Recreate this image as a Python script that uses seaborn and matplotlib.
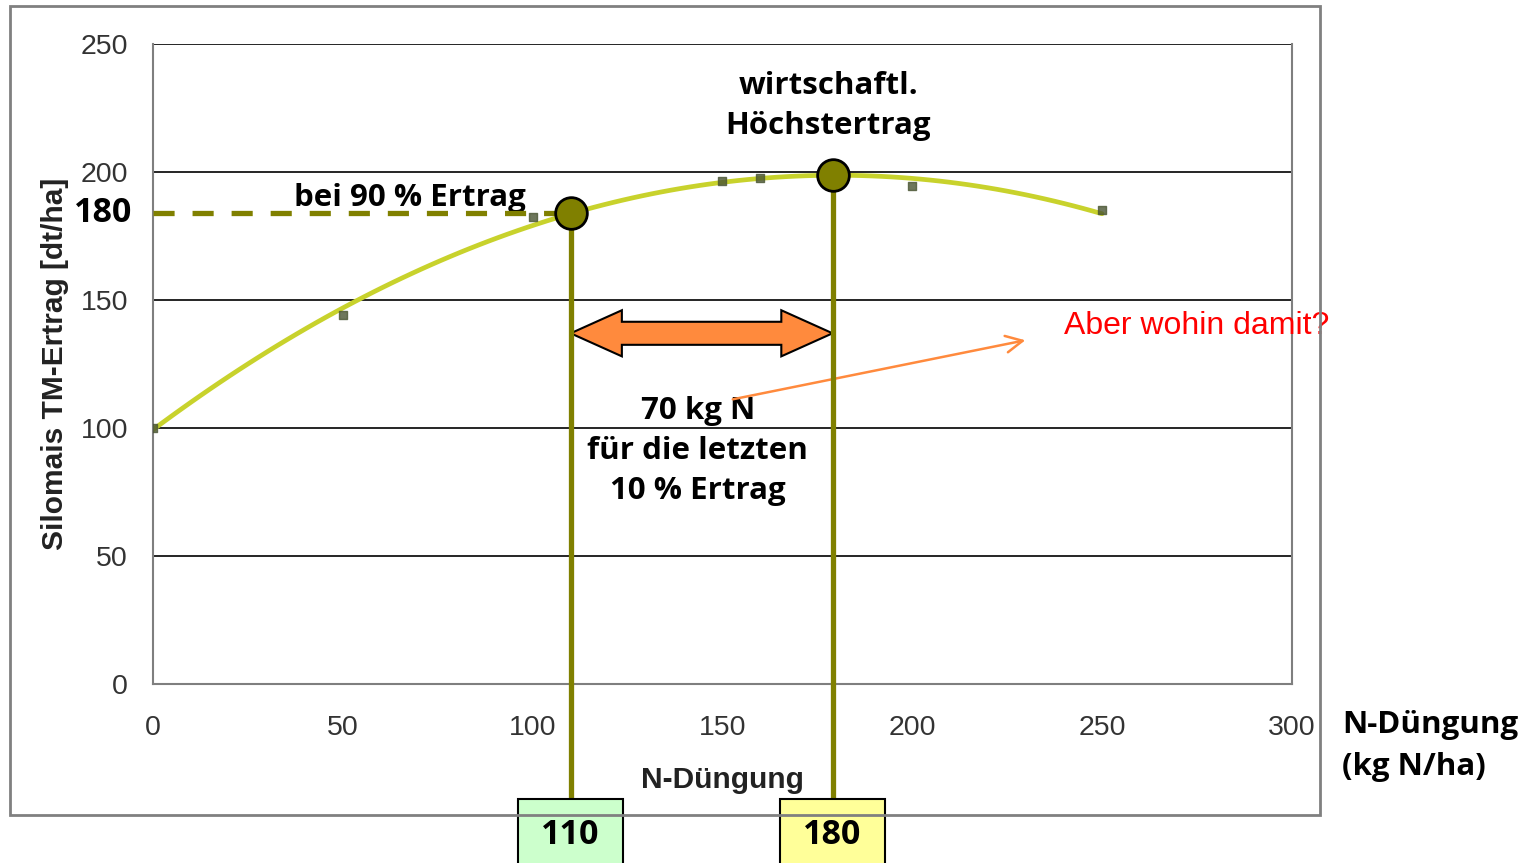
"""N-Düngung vs. Silomais-Ertrag mit wirtschaftlichem Optimum"""

import matplotlib
matplotlib.use("Agg")
import matplotlib.pyplot as plt
import matplotlib.patches as mpatches
import matplotlib.transforms as mtransforms
import numpy as np
import pandas as pd
import seaborn as sns

# ── Daten ──
n_rates = [0, 50, 100, 150, 160, 200, 250]
yield_dt = [100, 144, 182.5, 196.5, 197.5, 194.5, 185]

opt_n = [110, 179]          # 90 % Ertrag / wirtschaftl. Höchstertrag
opt_yield = [184, 199]
box_labels = ["110", "180"]
box_colors = ["#ccffcc", "#ffff99"]

x_ticks = [0, 50, 100, 150, 200, 250, 300]
y_ticks = [0, 50, 100, 150, 200, 250]

OLIVE = "#808000"
CURVE = "#c8d22c"
ORANGE = "#ff8a3d"

sns.set_style("white")
plt.rcParams["font.family"] = ["Liberation Sans", "DejaVu Sans"]
plt.rcParams["text.color"] = "black"
BOLD_FAM = ["Open Sans", "DejaVu Sans"]
BSIZE = 22.5      # Textgröße der Beschriftungen
NSIZE = 24.5      # Ziffern in den Kästen

df = pd.DataFrame({"N": n_rates, "Ertrag": yield_dt})

fig = plt.figure(figsize=(15.3, 8.63), dpi=100)
ax = fig.add_axes([0.1, 0.2074, 0.7444, 0.7416])

# Polynom 2. Grades wie Excel-Trendlinie
sns.regplot(data=df, x="N", y="Ertrag", order=2, ci=None, ax=ax, marker="s",
            scatter_kws={"s": 26, "color": "#4a5533", "zorder": 3},
            line_kws={"color": CURVE, "lw": 3.4, "zorder": 2})

ax.set_xlim(0, 300)
ax.set_ylim(0, 250)
ax.set_xticks(x_ticks)
ax.set_yticks(y_ticks)
ax.yaxis.grid(True, color="black", lw=1.2, zorder=0)
ax.set_axisbelow(True)
for side in ["left", "bottom", "right"]:
    ax.spines[side].set_color("#7f7f7f")
    ax.spines[side].set_linewidth(1.5)
ax.spines["top"].set_visible(False)
ax.tick_params(axis="both", which="both", direction="out", length=6, width=1,
               color="#9a9a9a", labelsize=20.5, labelcolor="#333333")
ax.tick_params(axis="y", pad=12)
ax.tick_params(axis="x", pad=16)
ax.set_xlabel("N-Düngung", fontsize=21.5, fontweight="bold", color="#222222", labelpad=18)
ax.set_ylabel("Silomais TM-Ertrag [dt/ha]", fontsize=21.5, fontweight="bold",
              color="#222222", labelpad=8)

# gestrichelte Linie bei 90 % Ertrag
ax.plot([0, opt_n[0]], [opt_yield[0]] * 2, ls=(0, (4, 3.4)), color=OLIVE, lw=3.8, zorder=4)
ax.text(-5.5, opt_yield[0], "180", ha="right", va="center", fontsize=NSIZE,
        fontweight="bold", family=BOLD_FAM, clip_on=False)

# senkrechte Linien bis zu den Kästen
y_box_top = -45
for xv, yv in zip(opt_n, opt_yield):
    ax.plot([xv, xv], [yv, y_box_top], color=OLIVE, lw=3.8, zorder=5, clip_on=False)
ax.scatter(opt_n, opt_yield, s=520, color=OLIVE, edgecolor="black", lw=2,
           zorder=6, clip_on=False)

# Kästen mit Zahlen (x in Daten, y in Figur)
trans = mtransforms.blended_transform_factory(ax.transData, fig.transFigure)
for xv, lab, col in zip(opt_n, box_labels, box_colors):
    fig.patches.append(mpatches.Rectangle((xv - 13.8, -0.01), 27.6, 0.084,
                                          transform=trans, facecolor=col,
                                          edgecolor="black", lw=1.5))
    fig.text(xv, 0.033, lab, transform=trans, ha="center", va="center",
             fontsize=NSIZE, fontweight="bold", family=BOLD_FAM)

# dicker Doppelpfeil zwischen 110 und 180
x0, x1 = opt_n
yc, head_len, head_hw, body_hw = 137, 13.5, 9, 4.5
poly = [(x0, yc), (x0 + head_len, yc + head_hw), (x0 + head_len, yc + body_hw),
        (x1 - head_len, yc + body_hw), (x1 - head_len, yc + head_hw), (x1, yc),
        (x1 - head_len, yc - head_hw), (x1 - head_len, yc - body_hw),
        (x0 + head_len, yc - body_hw), (x0 + head_len, yc - head_hw)]
ax.add_patch(mpatches.Polygon(poly, closed=True, facecolor=ORANGE,
                              edgecolor="black", lw=1.5, zorder=4))

# dünner Pfeil
ax.annotate("", xy=(230.5, 134.5), xytext=(152, 111),
            arrowprops=dict(arrowstyle="->", color=ORANGE, lw=1.8,
                            mutation_scale=30), zorder=4)

# Beschriftungen
ax.text(177.8, 225.8, "wirtschaftl.\nHöchstertrag", ha="center", va="center",
        fontsize=BSIZE, fontweight="bold", family=BOLD_FAM, linespacing=1.42)
ax.text(67.7, 190, "bei 90 % Ertrag", ha="center", va="center",
        fontsize=BSIZE, fontweight="bold", family=BOLD_FAM)
ax.text(143.5, 91, "70 kg N\nfür die letzten\n10 % Ertrag", ha="center", va="center",
        fontsize=BSIZE, fontweight="bold", family=BOLD_FAM, linespacing=1.42, zorder=3)
ax.text(240, 140, "Aber wohin damit?", ha="left", va="center", fontsize=23,
        color="red", clip_on=False)

fig.text(0.877, 0.1356, "N-Düngung\n(kg N/ha)", ha="left", va="center",
         fontsize=BSIZE, fontweight="bold", family=BOLD_FAM, linespacing=1.5)

# Rahmen um das Diagramm
fig.patches.append(mpatches.Rectangle((10 / 1530, 1 - 815 / 863), 1310 / 1530, 809 / 863,
                                      transform=fig.transFigure, fill=False,
                                      edgecolor="#808080", lw=2))

plt.savefig("out.png", dpi=100)
plt.close()
